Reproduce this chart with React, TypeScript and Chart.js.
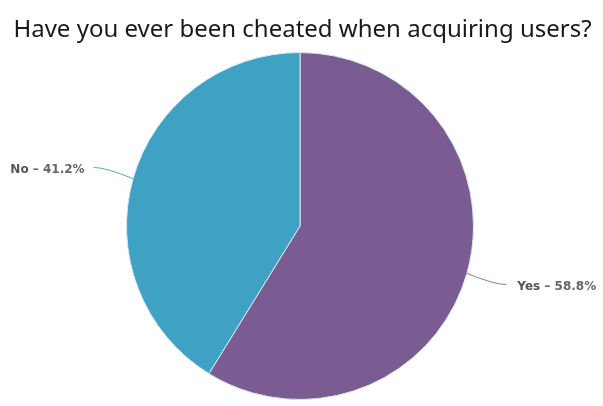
import React, { useEffect, useRef } from "react";
import { Chart, registerables } from "chart.js";

Chart.register(...registerables);

const categories = ["Yes", "No"];
const percentages = [58.8, 41.2];
const colors = ["#7B5C92", "#3FA1C3"];
const titleText = "Have you ever been cheated when acquiring users?";

const titlePlugin = {
  id: "wideTitle",
  afterDraw(chart: any) {
    const ctx = chart.ctx;
    ctx.save();
    ctx.fillStyle = "#1a1a1a";
    ctx.font = "normal 24px 'Noto Sans'";
    ctx.textAlign = "center";
    ctx.textBaseline = "alphabetic";
    ctx.fillText(titleText, chart.width / 2 + 1, 37);
    ctx.restore();
  },
};

const labelPlugin = {
  id: "pieLabels",
  afterDatasetsDraw(chart: any) {
    const ctx = chart.ctx;
    const meta = chart.getDatasetMeta(0);
    meta.data.forEach((arc: any, i: number) => {
      const { x, y, startAngle, endAngle, outerRadius } = arc.getProps(
        ["x", "y", "startAngle", "endAngle", "outerRadius"],
        true
      );
      const mid = (startAngle + endAngle) / 2;
      const cos = Math.cos(mid);
      const sin = Math.sin(mid);
      const ex = x + cos * outerRadius;
      const ey = y + sin * outerRadius;
      const lx = x + cos * (outerRadius + 41);
      const ly = y + sin * (outerRadius + 41);
      const right = cos >= 0;
      ctx.save();
      ctx.strokeStyle = i === 0 ? "#8a7a98" : "#5aa4c4";
      ctx.lineWidth = 1;
      ctx.beginPath();
      ctx.moveTo(ex, ey);
      const cx = lx + (right ? -12 : 12);
      ctx.quadraticCurveTo(cx, ly, lx, ly);
      ctx.stroke();
      ctx.restore();

      const name = categories[i];
      const val = " \u2013 " + percentages[i].toFixed(1) + "%";
      ctx.save();
      ctx.fillStyle = "#555555";
      ctx.textBaseline = "middle";
      ctx.font = "bold 12px 'DejaVu Sans'";
      const wName = ctx.measureText(name).width;
      const wVal = ctx.measureText(val).width;
      const tx = right ? lx + 11 : lx - 9 - wName - wVal;
      const ty = ly + 2;
      ctx.textAlign = "left";
      ctx.fillText(name, tx, ty);
      ctx.fillStyle = "#666666";
      ctx.fillText(val, tx + wName, ty);
      ctx.restore();
    });
  },
};

export default function App() {
  const ref = useRef<HTMLCanvasElement>(null);
  useEffect(() => {
    if (!ref.current) return;
    const chart = new Chart(ref.current, {
      type: "pie",
      data: {
        labels: categories,
        datasets: [
          {
            data: percentages,
            backgroundColor: colors,
            borderColor: "#d8e8f0",
            borderWidth: 1,
          },
        ],
      },
      options: {
        animation: false,
        responsive: false,
        maintainAspectRatio: false,
        layout: { padding: { top: 52, left: 126, right: 129, bottom: 6 } },
        plugins: {
          legend: { display: false },
          tooltip: { enabled: false },
          title: { display: false },
        },
      },
      plugins: [labelPlugin, titlePlugin],
    });
    return () => chart.destroy();
  }, []);
  return (
    <div style={{ position: "fixed", left: 0, top: 0, width: 603, height: 406, background: "#fff" }}>
      <canvas ref={ref} width={603} height={406} style={{ width: 603, height: 406 }} />
    </div>
  );
}
